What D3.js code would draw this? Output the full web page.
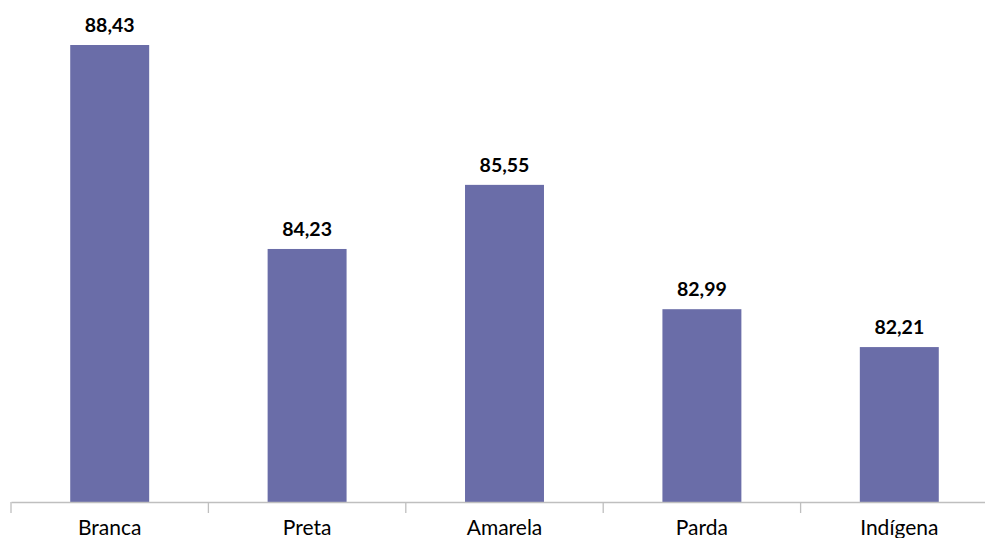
<!DOCTYPE html>
<html><head><meta charset="utf-8">
<script src="https://cdn.jsdelivr.net/npm/d3@7"></script>
<style>body{margin:0;background:#fff;}svg{display:block;}</style>
</head><body>
<svg id="c" width="985" height="538"></svg>
<script>
const categories = ["Branca", "Preta", "Amarela", "Parda", "Indígena"];
const values = [88.43, 84.23, 85.55, 82.99, 82.21];

const svg = d3.select("#c");
const x0 = 11, step = 197.4, baseY = 502;
const x = d3.scaleBand().domain(categories).range([x0, x0 + step * categories.length]).paddingInner(0.6).paddingOuter(0.3);
const y = d3.scaleLinear().domain([79.02, 88.43]).range([baseY, 45]);
const fmt = v => d3.format(".2f")(v).replace(".", ",");

svg.selectAll("rect.bar").data(values).join("rect")
  .attr("x", (d, i) => x(categories[i]))
  .attr("y", d => y(d))
  .attr("width", x.bandwidth())
  .attr("height", d => baseY - y(d))
  .attr("fill", "#6A6DA8");

svg.selectAll("text.val").data(values).join("text")
  .attr("x", (d, i) => x(categories[i]) + x.bandwidth() / 2)
  .attr("y", d => y(d) - 13)
  .attr("text-anchor", "middle")
  .attr("font-family", "Lato, sans-serif")
  .attr("font-weight", "bold")
  .attr("font-size", 19.5)
  .attr("fill", "#000")
  .text(d => fmt(d));

const axis = d3.axisBottom(x).tickSize(0).tickSizeOuter(0);
const g = svg.append("g").attr("transform", `translate(0,${baseY})`).call(axis);
g.select(".domain").attr("stroke", "#BFBFBF").attr("stroke-width", 1.3);
g.selectAll(".tick text").attr("dy", null).attr("y", 33)
  .attr("font-family", "Lato, sans-serif").attr("font-size", 21).attr("fill", "#000");
// category boundary ticks
const bounds = d3.range(categories.length + 1).map(i => x0 + step * i);
g.selectAll("line.sep").data(bounds).join("line")
  .attr("x1", d => d).attr("x2", d => d).attr("y1", 0).attr("y2", 11)
  .attr("stroke", "#BFBFBF").attr("stroke-width", 1.3);
</script>
</body></html>
